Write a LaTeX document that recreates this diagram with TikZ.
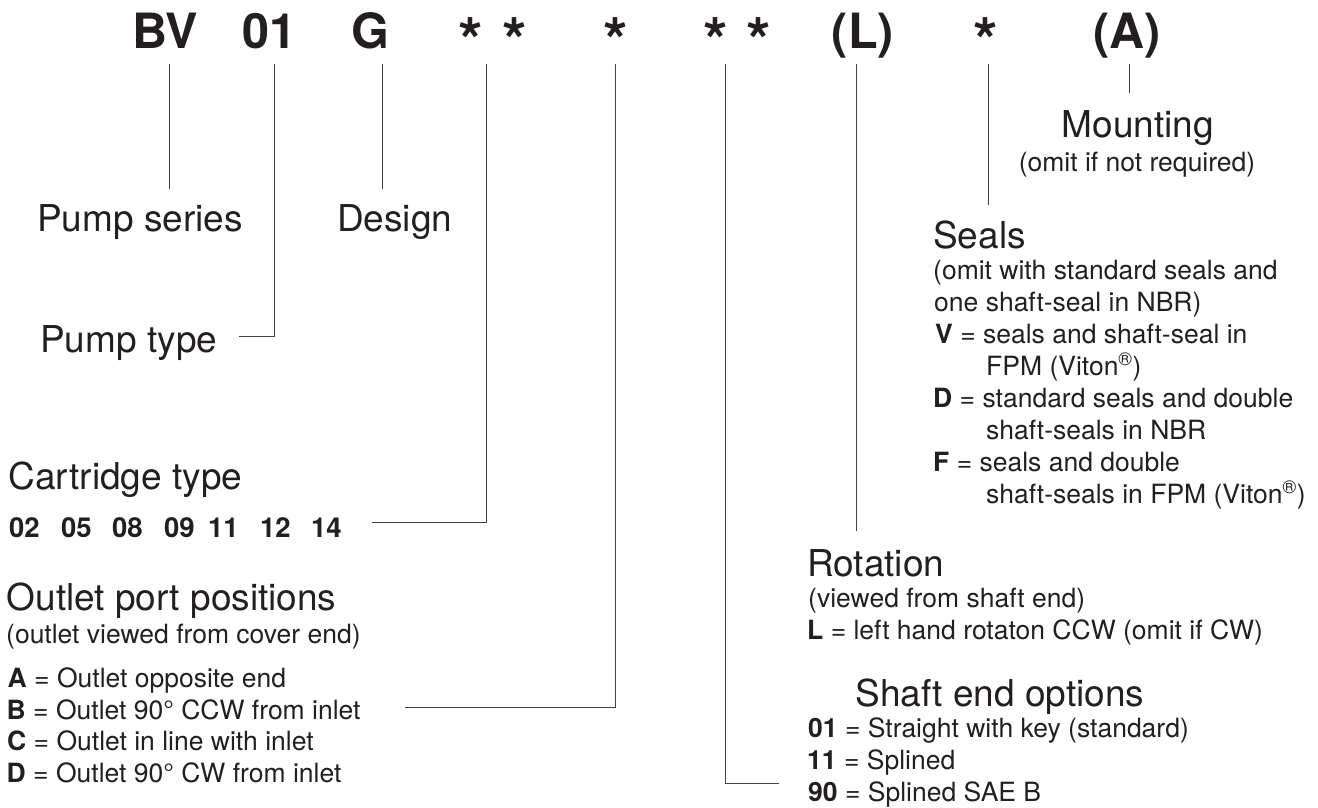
\documentclass[tikz,border=0pt]{standalone}
\usepackage{fontspec}
\setmainfont{TeX Gyre Heros}
\definecolor{ink}{HTML}{231F20}

\tikzset{
	code/.style={font=\bfseries\fontsize{48.6}{50}\selectfont, anchor=base, inner sep=0pt},
	star/.style={code, font=\bfseries\fontsize{63}{64}\selectfont},
	head/.style={font=\fontsize{37}{40}\selectfont, anchor=base west, inner sep=0pt},
	note/.style={font=\fontsize{26.5}{32}\selectfont, anchor=base west, inner sep=0pt},
	num/.style={font=\bfseries\fontsize{27.5}{30}\selectfont, anchor=base west, inner sep=0pt},
	lead/.style={draw=ink!85, line width=1pt},
}

\begin{document}
\begin{tikzpicture}[x=1pt, y=-1pt, text=ink]
		\useasboundingbox (0,0) rectangle (1318,807);

		% type code
		\node[code] (bv) at (165,48) {BV};
		\node[code] (ptype) at (269.5,48) {01};
		\node[code] (design) at (370.5,48) {G};
		\node[star] (cart) at (493,63) {*\hspace{19pt}*};
		\node[star] (outlet) at (616,63) {*};
		\node[star] (shaft) at (737,63) {*\hspace{19pt}*};
		\node[code] (rot) at (863,48) {(L)};
		\node[star] (seal) at (986,63) {*};
		\node[code] (mount) at (1127,48) {(A)};

		% leader ends
		\coordinate (bv-tick) at (169,64);
		\coordinate (bv-end) at (169,189);
		\coordinate (ptype-tick) at (274,64);
		\coordinate (ptype-end) at (239,336);
		\coordinate (design-tick) at (382,64);
		\coordinate (design-end) at (382,189);
		\coordinate (cart-tick) at (486,64);
		\coordinate (cart-end) at (372,522);
		\coordinate (outlet-tick) at (615,64);
		\coordinate (outlet-end) at (405,707);
		\coordinate (shaft-tick) at (725,64);
		\coordinate (shaft-end) at (779,783);
		\coordinate (rot-tick) at (856,64);
		\coordinate (rot-end) at (856,531);
		\coordinate (seal-tick) at (988,64);
		\coordinate (seal-end) at (988,205);
		\coordinate (mount-tick) at (1129,64);
		\coordinate (mount-end) at (1129,93);

		\draw[lead] (bv-tick) -- (bv-end);
		\draw[lead] (ptype-tick) |- (ptype-end);
		\draw[lead] (design-tick) -- (design-end);
		\draw[lead] (cart-tick) |- (cart-end);
		\draw[lead] (outlet-tick) |- (outlet-end);
		\draw[lead] (shaft-tick) |- (shaft-end);
		\draw[lead] (rot-tick) -- (rot-end);
		\draw[lead] (seal-tick) -- (seal-end);
		\draw[lead] (mount-tick) -- (mount-end);

		% left column
		\node[head] (series-txt) at (37,231) {Pump series};
		\node[head] (design-txt) at (337,231) {Design};
		\node[head] (ptype-txt) at (40,352) {Pump type};

		\node[head] (cart-txt) at (8.5,489) {Cartridge type};
		\foreach \n/\x in {02/9, 05/61, 08/112, 09/164, 11/208, 12/260, 14/311}
			\node[num] (cart-\n) at (\x,537) {\n};

		\node[head] (outlet-txt) at (6.5,610) {Outlet port positions};
		\node[note] (outlet-sub) at (6,643) {(outlet viewed from cover end)};
		\node[note] (outlet-a) at (7.5,687) {\textbf{A} = Outlet opposite end};
		\node[note] (outlet-b) at (6.5,719) {\textbf{B} = Outlet 90° CCW from inlet};
		\node[note] (outlet-c) at (7,750) {\textbf{C} = Outlet in line with inlet};
		\node[note] (outlet-d) at (6.5,782) {\textbf{D} = Outlet 90° CW from inlet};

		% right column
		\node[head, anchor=base] (mount-txt) at (1138,137) {Mounting};
		\node[note, anchor=base] (mount-sub) at (1137,171) {(omit if not required)};

		\node[head] (seal-txt) at (933,248) {Seals};
		\node[note] (seal-sub1) at (933,279) {(omit with standard seals and};
		\node[note] (seal-sub2) at (934,311) {one shaft-seal in NBR)};
		\node[note] (seal-v) at (935,343) {\textbf{V} = seals and shaft-seal in};
		\node[note] (seal-v2) at (986,375) {FPM (Viton\textsuperscript{®})};
		\node[note] (seal-d) at (933,407) {\textbf{D} = standard seals and double};
		\node[note] (seal-d2) at (986,439) {shaft-seals in NBR};
		\node[note] (seal-f) at (933,471) {\textbf{F} = seals and double};
		\node[note] (seal-f2) at (986,503) {shaft-seals in FPM (Viton\textsuperscript{®})};

		\node[head] (rot-txt) at (807,576) {Rotation};
		\node[note] (rot-sub) at (808,607) {(viewed from shaft end)};
		\node[note] (rot-l) at (807,639) {\textbf{L} = left hand rotaton CCW (omit if CW)};

		\node[head] (shaft-txt) at (855.5,706) {Shaft end options};
		\node[note] (shaft-01) at (808,737) {\textbf{01} = Straight with key (standard)};
		\node[note] (shaft-11) at (807,769) {\textbf{11} = Splined};
		\node[note] (shaft-90) at (808,801) {\textbf{90} = Splined SAE B};
	\end{tikzpicture}
\end{document}
